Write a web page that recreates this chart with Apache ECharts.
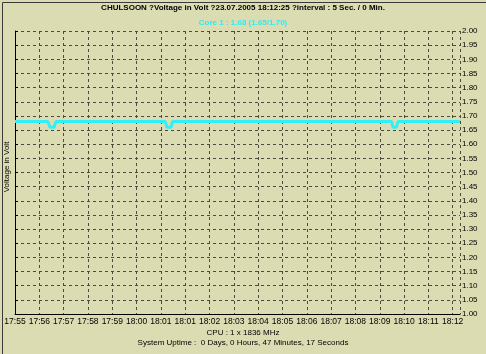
<!DOCTYPE html>
<html>
<head>
<meta charset="utf-8">
<script src="https://cdn.jsdelivr.net/npm/echarts@6/dist/echarts.min.js"></script>
<style>
  html, body { margin: 0; padding: 0; background: #dcdcb2; }
  #chart { width: 486px; height: 354px; }
</style>
</head>
<body>
<div id="chart"></div>
<script>
// x labels, one per minute step (the tool printed 18:01 twice)
var timeLabels = ['17:55', '17:56', '17:57', '17:58', '17:59', '18:00', '18:01', '18:01', '18:02',
  '18:03', '18:04', '18:05', '18:06', '18:07', '18:08', '18:09', '18:10', '18:11', '18:12'];
// core voltage, [minute step, volt] at each change of the trace
var coreX = [0, 1.35, 1.44, 1.61, 1.68, 6.18, 6.25, 6.42, 6.48, 15.49, 15.54, 15.68, 15.75, 18.3];
var coreV = [1.68, 1.68, 1.66, 1.66, 1.68, 1.68, 1.66, 1.66, 1.68, 1.68, 1.66, 1.66, 1.68, 1.68];

var titleText = 'CHULSOON ?Voltage in Volt ?23.07.2005 18:12:25 ?interval : 5 Sec. / 0 Min.';
var legendText = 'Core 1 : 1.68 (1.65/1.70)';
var cpuText = 'CPU : 1 x 1836 MHz';
var uptimeText = 'System Uptime :  0 Days, 0 Hours, 47 Minutes, 17 Seconds';

var font = '"Liberation Sans", Arial, sans-serif';

var coreData = [];
for (var i = 0; i < coreX.length; i++) {
  coreData.push([coreX[i], coreV[i]]);
}

var chart = echarts.init(document.getElementById('chart'));
var option = {
  backgroundColor: '#dcdcb2',
  animation: false,
  textStyle: { fontFamily: font },
  grid: { left: 15, right: 26, top: 31, bottom: 40 },
  xAxis: {
    type: 'value',
    min: 0,
    max: 18.3,
    interval: 1,
    axisLine: { show: true, lineStyle: { color: '#000', width: 1 } },
    axisTick: { show: false },
    axisLabel: {
      color: '#000',
      fontSize: 8.5,
      margin: 3,
      showMaxLabel: false,
      formatter: function (v) {
        var k = Math.round(v);
        return Math.abs(v - k) < 1e-6 ? (timeLabels[k] || '') : '';
      }
    },
    splitLine: { show: true, lineStyle: { color: '#4a4a44', type: [3, 3], width: 1 } }
  },
  yAxis: {
    type: 'value',
    position: 'right',
    min: 1,
    max: 2,
    interval: 0.05,
    axisLine: { show: true, lineStyle: { color: '#000', width: 1 } },
    axisTick: { show: true, length: 3, lineStyle: { color: '#000' } },
    axisLabel: {
      color: '#000',
      fontSize: 8,
      margin: 2,
      formatter: function (v) { return v.toFixed(2); }
    },
    splitLine: { show: true, lineStyle: { color: '#4a4a44', type: [3, 3], width: 1 } }
  },
  graphic: [
    {
      type: 'text', left: 'center', top: 4,
      style: { text: titleText, fill: '#000', font: 'bold 8px ' + font }
    },
    {
      type: 'text', left: 'center', top: 19,
      style: { text: legendText, fill: '#33e8f0', font: 'bold 8px ' + font }
    },
    {
      type: 'text', x: 3, y: 167, rotation: Math.PI / 2,
      style: { text: 'Voltage in Volt', fill: '#000', font: '8px ' + font, align: 'center', verticalAlign: 'top' }
    },
    {
      type: 'text', left: 'center', top: 329,
      style: { text: cpuText, fill: '#000', font: '8px ' + font }
    },
    {
      type: 'text', left: 'center', top: 339,
      style: { text: uptimeText, fill: '#000', font: '8px ' + font }
    },
    {
      type: 'rect', left: 0, top: 0, z: 10,
      shape: { x: 0.5, y: 0.5, width: 485, height: 353 },
      style: { fill: 'none', stroke: '#3a3a3a', lineWidth: 1 }
    }
  ],
  series: [
    {
      type: 'line',
      data: coreData,
      showSymbol: false,
      lineStyle: { color: '#2ff0f6', width: 3 },
      z: 5
    }
  ]
};
chart.setOption(option);
</script>
</body>
</html>
